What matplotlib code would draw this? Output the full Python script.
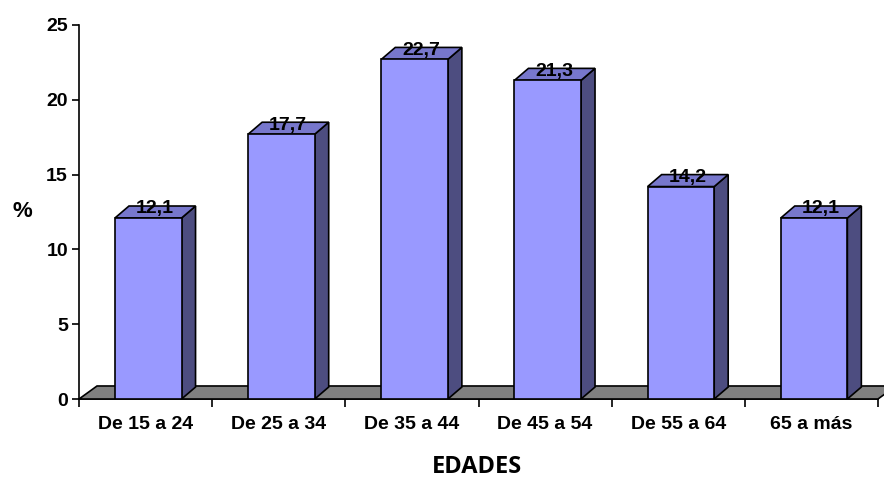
import matplotlib
matplotlib.use("Agg")
import matplotlib.pyplot as plt
from matplotlib.patches import Polygon

categorias = ["De 15 a 24", "De 25 a 34", "De 35 a 44", "De 45 a 54", "De 55 a 64", "65 a más"]
porcentajes = [12.1, 17.7, 22.7, 21.3, 14.2, 12.1]
yticks = [0, 5, 10, 15, 20, 25]

FRONT = "#9999ff"
SIDE = "#4d4d80"
TOP = "#7777cc"
FLOOR = "#808080"

plt.rcParams["font.family"] = ["Liberation Sans", "DejaVu Sans"]

fig = plt.figure(figsize=(8.84, 4.8), dpi=100)
ax = fig.add_axes([0.0894, 0.16875, 0.9038, 0.7792])
n = len(categorias)
ax.set_xlim(0, n)
ax.set_ylim(0, 25)

# depth offsets for the pseudo-3D look (data units)
bdx, bdy = 0.105, 0.8
fdx, fdy = 0.135, 0.87
w = 0.5

# floor
floor = Polygon([(0, 0), (n, 0), (n + fdx, fdy), (fdx, fdy)], closed=True,
                facecolor=FLOOR, edgecolor="black", lw=1.2, clip_on=False, zorder=1)
ax.add_patch(floor)

for i, v in enumerate(porcentajes):
    x0 = i + 0.5 - w / 2 + 0.02
    x1 = x0 + w
    front = Polygon([(x0, 0), (x1, 0), (x1, v), (x0, v)], closed=True,
                    facecolor=FRONT, edgecolor="black", lw=1.2, zorder=3)
    side = Polygon([(x1, 0), (x1 + bdx, bdy), (x1 + bdx, v + bdy), (x1, v)], closed=True,
                   facecolor=SIDE, edgecolor="black", lw=1.2, zorder=2)
    top = Polygon([(x0, v), (x1, v), (x1 + bdx, v + bdy), (x0 + bdx, v + bdy)], closed=True,
                  facecolor=TOP, edgecolor="black", lw=1.2, zorder=2)
    for p in (side, top, front):
        ax.add_patch(p)
    ax.text((x0 + x1) / 2 + 0.05, v + 0.6, f"{v:.1f}".replace(".", ","),
            ha="center", va="center", fontsize=14, fontweight="bold", zorder=5)

ax.set_yticks(yticks)
ax.set_yticklabels([str(t) for t in yticks], fontsize=14, fontweight="bold")
ax.set_xticks(range(n + 1))
ax.set_xticklabels([])
ax.set_xticks([i + 0.5 for i in range(n)], minor=True)
ax.set_xticklabels(categorias, minor=True, fontsize=14, fontweight="bold")
ax.tick_params(axis="x", which="minor", length=0, pad=12)
ax.tick_params(axis="x", which="major", length=6, width=1.2, direction="out")
ax.tick_params(axis="y", length=5, width=1.2, direction="out", pad=3)

for s in ("top", "right"):
    ax.spines[s].set_visible(False)
ax.spines["left"].set_linewidth(1.2)
ax.spines["bottom"].set_linewidth(1.2)
ax.spines["bottom"].set_zorder(0)

fig.text(0.025, 0.559, "%", fontsize=16, fontweight="bold", ha="center", va="center")
fig.text(0.54, 0.027, "EDADES", fontsize=17, fontweight="bold", ha="center", va="center",
         family=["Open Sans", "DejaVu Sans"])

fig.savefig("out.png", dpi=100)
